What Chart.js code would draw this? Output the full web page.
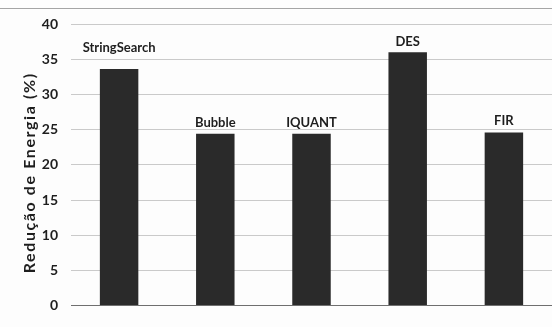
<!DOCTYPE html>
<html>
<head>
<meta charset="utf-8">
<script src="https://cdn.jsdelivr.net/npm/chart.js@4.4.1/dist/chart.umd.min.js"></script>
<style>
  html, body { margin: 0; padding: 0; background: #fdfdfd; }
  #wrap { width: 552px; height: 327px; position: relative; }
</style>
</head>
<body>
<div id="wrap"><canvas id="energyChart"></canvas></div>
<script>
const benchmarks = ['StringSearch', 'Bubble', 'IQUANT', 'DES', 'FIR'];
const energyReduction = [33.6, 24.4, 24.4, 36.0, 24.6];
const yTicks = [0, 5, 10, 15, 20, 25, 30, 35, 40];
const yTitle = 'Redução de Energia (%)';

// how far each name sits above its bar (px)
const labelLift = [21, 11, 11, 10, 12];

const textFont = "Lato, 'Open Sans', sans-serif";

// frame line, spaced-out axis title and names above the bars
const barNames = {
    id: 'barNames',
    beforeDraw(chart) {
        const ctx = chart.ctx;
        ctx.save();
        ctx.strokeStyle = 'rgba(0,0,0,0.35)';
        ctx.lineWidth = 1;
        ctx.beginPath();
        ctx.moveTo(0, 8.5);
        ctx.lineTo(chart.width, 8.5);
        ctx.stroke();
        ctx.restore();
    },
    afterDraw(chart) {
        const ctx = chart.ctx;
        const area = chart.chartArea;
        ctx.save();
        ctx.translate(30, (area.top + area.bottom) / 2 + 8);
        ctx.rotate(-Math.PI / 2);
        ctx.font = 'bold 16px ' + textFont;
        ctx.letterSpacing = '1.6px';
        ctx.fillStyle = '#1e1e1e';
        ctx.textAlign = 'center';
        ctx.textBaseline = 'middle';
        ctx.fillText(yTitle, 0, 0);
        ctx.restore();
    },
    afterDatasetsDraw(chart) {
        const ctx = chart.ctx;
        const meta = chart.getDatasetMeta(0);
        ctx.save();
        ctx.font = 'bold 13px ' + textFont;
        ctx.fillStyle = '#1e1e1e';
        ctx.textAlign = 'center';
        ctx.textBaseline = 'middle';
        meta.data.forEach((bar, i) => {
            ctx.fillText(benchmarks[i], bar.x, bar.y - labelLift[i]);
        });
        ctx.restore();
    }
};

new Chart(document.getElementById('energyChart'), {
    type: 'bar',
    data: {
        labels: benchmarks,
        datasets: [{
            data: energyReduction,
            backgroundColor: '#2a2a2a',
            borderWidth: 0,
            barPercentage: 0.4,
            categoryPercentage: 1.0
        }]
    },
    options: {
        responsive: true,
        maintainAspectRatio: false,
        animation: false,
        layout: { padding: { top: 24, bottom: 11, left: 0, right: 0 } },
        plugins: {
            legend: { display: false },
            tooltip: { enabled: false }
        },
        scales: {
            x: {
                ticks: { display: false },
                grid: { display: false, drawTicks: false },
                border: { display: true, color: 'rgba(0,0,0,0.45)' },
                afterFit(scale) { scale.height = 0; }
            },
            y: {
                min: 0,
                max: 40,
                afterBuildTicks(scale) {
                    scale.ticks = yTicks.map(v => ({ value: v }));
                },
                afterFit(scale) { scale.width = 71; },
                ticks: {
                    padding: 13,
                    color: '#1e1e1e',
                    font: { family: textFont, size: 14, weight: 'bold' }
                },
                grid: {
                    drawTicks: false,
                    color: 'rgba(0,0,0,0.2)'
                },
                border: { display: false }
            }
        }
    },
    plugins: [barNames]
});
</script>
</body>
</html>
